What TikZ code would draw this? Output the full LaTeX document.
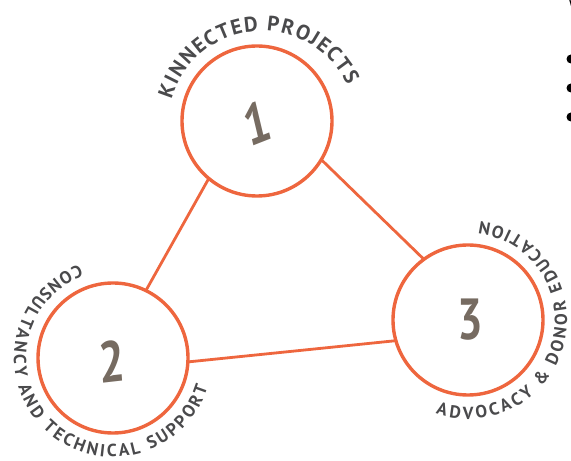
\documentclass[tikz,border=0pt]{standalone}
\usepackage{fontspec}
\setsansfont{PT Sans}
\usepackage{tikz}
\usetikzlibrary{positioning,decorations.text}
\definecolor{kinorange}{RGB}{238,102,62}
\definecolor{labelgray}{RGB}{74,74,76}
\definecolor{digitgray}{RGB}{118,107,97}
\newcommand{\toplbl}{\sffamily\bfseries\fontsize{21}{21}\selectfont}
\newcommand{\ringlbl}{\sffamily\bfseries\fontsize{17.5}{17.5}\selectfont}
\tikzset{
    x=1pt,
    y=1pt,
    ring/.style = {
        draw=kinorange,
        shape=circle,
        minimum size=150pt,
        inner sep=0pt,
        outer sep=0pt,
        line width=3.4pt
    },
    digit/.style = {
        text=digitgray,
        font=\sffamily\bfseries\fontsize{58}{58}\selectfont,
        xscale=0.78
    },
    link/.style = {
        draw=kinorange,
        line width=2.8pt
    },
    curved/.style = {
        decorate,
        decoration={text along path, text align=fit to path, text color=labelgray}
    },
    bullet/.style = {
        fill=black,
        shape=circle,
        minimum size=9pt,
        inner sep=0pt
    },
}
\begin{document}
\begin{tikzpicture}
    \useasboundingbox (0,0) rectangle (571,461);

    \node[ring] (n1) at (257,340) {};
    \node[ring] (n2) at (113,103) {};
    \node[ring] (n3) at (468,141) {};
    \node[digit, rotate=17] (d1) at (257,338) {1};
    \node[digit, rotate=5] (d2) at (112,100) {2};
    \node[digit] (d3) at (470,141) {3};
    \coordinate (c1) at (262,336);

    \path[link] (n1.230) -- (n2.64);
    \path[link] (n1.329) -- (n3.126);
    \path[link] (n2.357) -- (n3.196);

    % labels round the rings
    \path[curved, decoration={text={|\toplbl|KINNECTED PROJECTS}}]
        ([shift={(164:94)}]c1) arc[start angle=164, end angle=25, radius=94];
    \path[curved, decoration={text={|\ringlbl|CONSULTANCY AND TECHNICAL SUPPORT}}]
        ([shift={(110:99)}]n2.center) arc[start angle=110, end angle=343, radius=99];
    \path[curved, decoration={text={|\ringlbl|ADVOCACY {\&} DONOR EDUCATION}}]
        ([shift={(251:99)}]n3.center) arc[start angle=251, end angle=443, radius=99];

    % cut off at the right edge
    \node[anchor=north west, font=\sffamily\fontsize{16}{16}\selectfont] (cut) at (565,466) {W};
    \node[bullet] (b1) at (571,402) {};
    \node[bullet] (b2) at (571,373) {};
    \node[bullet] (b3) at (571,344) {};
\end{tikzpicture}
\end{document}
